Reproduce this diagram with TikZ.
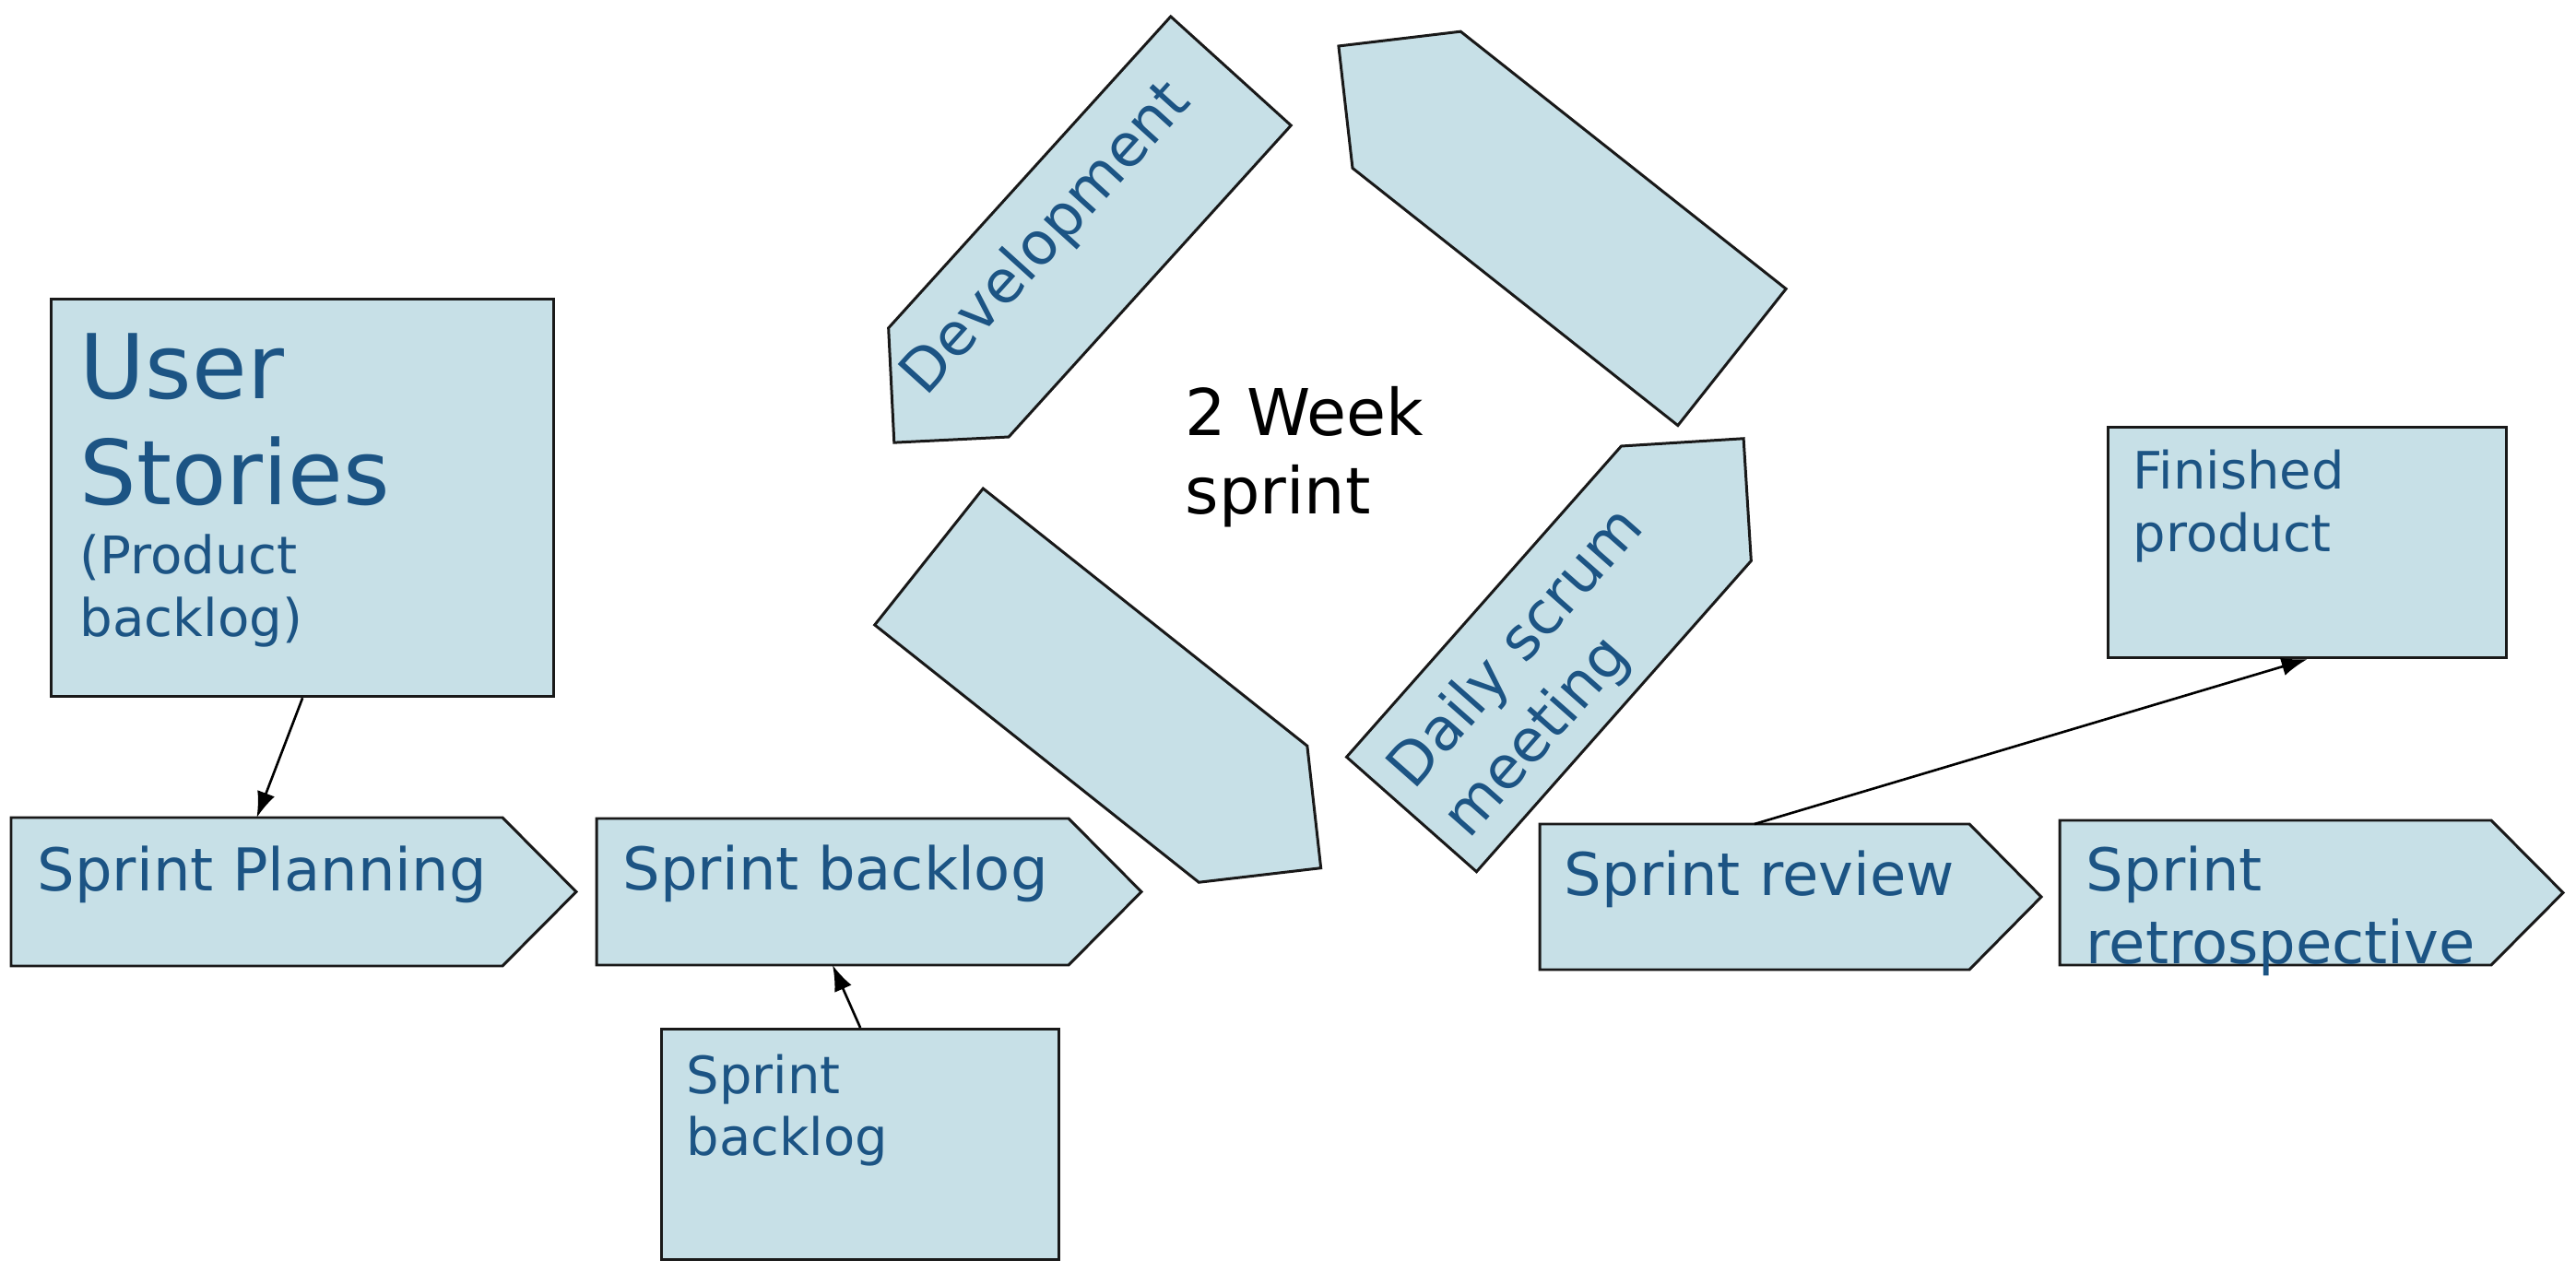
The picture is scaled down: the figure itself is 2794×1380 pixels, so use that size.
\documentclass[tikz,border=0pt]{standalone}
\usepackage{fontspec}
\setmainfont{DejaVu Sans}
\usetikzlibrary{arrows.meta}
\definecolor{boxfill}{RGB}{199,224,231}
\definecolor{boxtext}{RGB}{28,84,132}
\newcommand\txtlines[3]{\fontsize{#1}{#2}\selectfont\begin{tabular}[t]{@{}l@{}}#3\end{tabular}}
\begin{document}
\begin{tikzpicture}[x=0.01cm,y=-0.01cm,
  shp/.style={draw=black!90, line width=0.85pt, fill=boxfill},
  rbox/.style={shp, anchor=north west, inner sep=0pt},
  lbl/.style={inner sep=0pt, anchor=base west, text=boxtext},
  conn/.style={draw=black, line width=0.75pt, -{Latex[length=0.28cm,width=0.2cm]}}]
\useasboundingbox[fill=white] (0,0) rectangle (2794,1380);

% rectangles
\node[rbox, minimum width=5.45cm, minimum height=4.31cm] (us) at (54,323) {};
\node[rbox, minimum width=4.32cm, minimum height=2.50cm] (fp) at (2285,462) {};
\node[rbox, minimum width=4.31cm, minimum height=2.50cm] (sbl) at (716,1115) {};

% horizontal pentagon arrows
\path[shp] (12,887) -- (545,887) -- (625,967.5) -- (545,1048) -- (12,1048) -- cycle;
\coordinate (spN) at (278.5,887);
\path[shp] (647,888) -- (1159,888) -- (1238,967.5) -- (1159,1047) -- (647,1047) -- cycle;
\coordinate (sbS) at (903,1047);
\path[shp] (1670,894) -- (2136,894) -- (2214,973) -- (2136,1052) -- (1670,1052) -- cycle;
\coordinate (srN) at (1903,894);
\path[shp] (2234,890) -- (2702,890) -- (2780,968.5) -- (2702,1047) -- (2234,1047) -- cycle;

% rotated pentagon arrows of the cycle
\begin{scope}[shift={(1335,77)}, rotate=-132.17]
  \path[shp] (0,-88) -- (456,-88) -- (544,0) -- (456,88) -- (0,88) -- cycle;
\end{scope}
\begin{scope}[shift={(1878.5,387.5)}, rotate=141.65]
  \path[shp] (0,-94.5) -- (450,-94.5) -- (544,0) -- (450,94.5) -- (0,94.5) -- cycle;
\end{scope}
\begin{scope}[shift={(1007.5,604)}, rotate=-38.46]
  \path[shp] (0,-94.5) -- (449,-94.5) -- (543,0) -- (449,94.5) -- (0,94.5) -- cycle;
\end{scope}
\begin{scope}[shift={(1531,883.5)}, rotate=48.55]
  \path[shp] (0,-94) -- (450,-94) -- (544,0) -- (450,94) -- (0,94) -- cycle;
\end{scope}

% texts
\node[lbl] (usT) at (86,432.5) {\txtlines{27.6pt}{32.7pt}{User\\Stories}};
\node[lbl] (usT2) at (86,623) {\txtlines{16pt}{19.06pt}{(Product\\backlog)}};
\node[lbl] (spT) at (40,967) {\txtlines{18.2pt}{22.2pt}{Sprint Planning}};
\node[lbl] (sbT) at (675,966) {\txtlines{18.2pt}{22.2pt}{Sprint backlog}};
\node[lbl] (srT) at (1696,972) {\txtlines{18.2pt}{22.2pt}{Sprint review}};
\node[lbl] (srtT) at (2262,967) {\txtlines{18.2pt}{22.2pt}{Sprint\\retrospective}};
\node[lbl] (fpT) at (2313,531) {\txtlines{15.9pt}{19.1pt}{Finished\\product}};
\node[lbl] (sblT) at (744,1186) {\txtlines{15.9pt}{19.1pt}{Sprint\\backlog}};
\node[lbl, text=black] (wk) at (1285,473) {\txtlines{19.9pt}{23.9pt}{2 Week\\sprint}};
\node[lbl, rotate=47.83] (devT) at (1004,432) {\txtlines{18.2pt}{22.2pt}{Development}};
\node[lbl, rotate=48.55] (dsT) at (1533,859) {\txtlines{18.2pt}{22.8pt}{Daily scrum\\meeting}};

% connectors
\draw[conn] (us.south) -- (spN);
\draw[conn] (sbl.north) -- (sbS);
\draw[conn] (srN) -- (fp.south);
\end{tikzpicture}
\end{document}
